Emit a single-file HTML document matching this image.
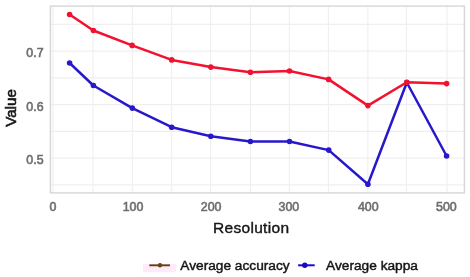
<!DOCTYPE html>
<html><head><meta charset="utf-8"><style>
html,body{margin:0;padding:0;background:#fff;width:470px;height:277px;overflow:hidden}
svg{display:block;filter:blur(0.45px);font-family:"Liberation Sans",sans-serif}
</style></head><body>
<svg width="470" height="277" viewBox="0 0 470 277">
<rect width="470" height="277" fill="#fff"/>
<g stroke="#efefef" stroke-width="1.1"><line x1="52.90" y1="6.1" x2="52.90" y2="192.9"/><line x1="93.10" y1="6.1" x2="93.10" y2="192.9"/><line x1="132.30" y1="6.1" x2="132.30" y2="192.9"/><line x1="171.70" y1="6.1" x2="171.70" y2="192.9"/><line x1="210.60" y1="6.1" x2="210.60" y2="192.9"/><line x1="250.40" y1="6.1" x2="250.40" y2="192.9"/><line x1="289.40" y1="6.1" x2="289.40" y2="192.9"/><line x1="328.40" y1="6.1" x2="328.40" y2="192.9"/><line x1="367.90" y1="6.1" x2="367.90" y2="192.9"/><line x1="406.40" y1="6.1" x2="406.40" y2="192.9"/><line x1="447.00" y1="6.1" x2="447.00" y2="192.9"/><line x1="50.4" y1="184.85" x2="464.4" y2="184.85"/><line x1="50.4" y1="158.10" x2="464.4" y2="158.10"/><line x1="50.4" y1="131.35" x2="464.4" y2="131.35"/><line x1="50.4" y1="104.60" x2="464.4" y2="104.60"/><line x1="50.4" y1="77.85" x2="464.4" y2="77.85"/><line x1="50.4" y1="51.10" x2="464.4" y2="51.10"/><line x1="50.4" y1="24.35" x2="464.4" y2="24.35"/></g>
<rect x="50.4" y="6.1" width="414.0" height="186.8" fill="none" stroke="#d6d6d6" stroke-width="1.4"/>
<g font-size="12.4" fill="#6e6e6e" color="#6e6e6e" stroke="currentColor" stroke-width="0.6"><text x="52.90" y="211.2" text-anchor="middle">0</text><text x="133.00" y="211.2" text-anchor="middle">100</text><text x="211.10" y="211.2" text-anchor="middle">200</text><text x="288.90" y="211.2" text-anchor="middle">300</text><text x="368.30" y="211.2" text-anchor="middle">400</text><text x="446.40" y="211.2" text-anchor="middle">500</text><text x="43.6" y="164.00" text-anchor="end">0.5</text><text x="43.6" y="111.00" text-anchor="end">0.6</text><text x="43.6" y="56.70" text-anchor="end">0.7</text></g>
<g fill="#151515" color="#151515" stroke="currentColor" stroke-width="0.6">
<text x="251.2" y="232.8" font-size="15.5" text-anchor="middle" letter-spacing="0.3" stroke-width="0.4">Resolution</text>
<text transform="translate(16.4,108) rotate(-90)" font-size="15.2" text-anchor="middle">Value</text>
<text x="180.3" y="269.9" font-size="13.7" stroke-width="0.45">Average accuracy</text>
<text x="326.1" y="269.9" font-size="13.7" stroke-width="0.45">Average kappa</text>
</g>
<polyline points="69.6,63.0 93.4,85.5 132.3,108.1 171.7,127.2 210.8,136.3 250.4,141.5 289.5,141.5 328.7,150.1 367.9,184.2 406.8,82.5 446.6,156.0" fill="none" stroke="#2818cc" stroke-width="2.5" stroke-linejoin="round"/>
<circle cx="69.6" cy="63.0" r="2.8" fill="#2818cc"/><circle cx="93.4" cy="85.5" r="2.8" fill="#2818cc"/><circle cx="132.3" cy="108.1" r="2.8" fill="#2818cc"/><circle cx="171.7" cy="127.2" r="2.8" fill="#2818cc"/><circle cx="210.8" cy="136.3" r="2.8" fill="#2818cc"/><circle cx="250.4" cy="141.5" r="2.8" fill="#2818cc"/><circle cx="289.5" cy="141.5" r="2.8" fill="#2818cc"/><circle cx="328.7" cy="150.1" r="2.8" fill="#2818cc"/><circle cx="367.9" cy="184.2" r="2.8" fill="#2818cc"/><circle cx="406.8" cy="82.5" r="2.8" fill="#2818cc"/><circle cx="446.6" cy="156.0" r="2.8" fill="#2818cc"/>
<polyline points="69.6,14.5 93.4,30.5 132.1,45.4 171.7,59.9 210.8,67.1 250.4,72.3 289.5,71.0 328.6,79.4 367.9,105.6 406.8,82.2 446.6,83.6" fill="none" stroke="#f21230" stroke-width="2.5" stroke-linejoin="round"/>
<circle cx="69.6" cy="14.5" r="2.8" fill="#f21230"/><circle cx="93.4" cy="30.5" r="2.8" fill="#f21230"/><circle cx="132.1" cy="45.4" r="2.8" fill="#f21230"/><circle cx="171.7" cy="59.9" r="2.8" fill="#f21230"/><circle cx="210.8" cy="67.1" r="2.8" fill="#f21230"/><circle cx="250.4" cy="72.3" r="2.8" fill="#f21230"/><circle cx="289.5" cy="71.0" r="2.8" fill="#f21230"/><circle cx="328.6" cy="79.4" r="2.8" fill="#f21230"/><circle cx="367.9" cy="105.6" r="2.8" fill="#f21230"/><circle cx="406.8" cy="82.2" r="2.8" fill="#f21230"/><circle cx="446.6" cy="83.6" r="2.8" fill="#f21230"/>
<rect x="143" y="263.8" width="33" height="8.4" fill="#fdecf7"/>
<line x1="149.3" y1="265.3" x2="170" y2="265.3" stroke="#743810" stroke-width="1.9"/>
<circle cx="160" cy="265.3" r="2.2" fill="#64441a"/>
<line x1="298.1" y1="265.3" x2="314.7" y2="265.3" stroke="#1a0ad0" stroke-width="2"/>
<circle cx="304.8" cy="265.3" r="2.7" fill="#1808c0"/>
</svg>
</body></html>
